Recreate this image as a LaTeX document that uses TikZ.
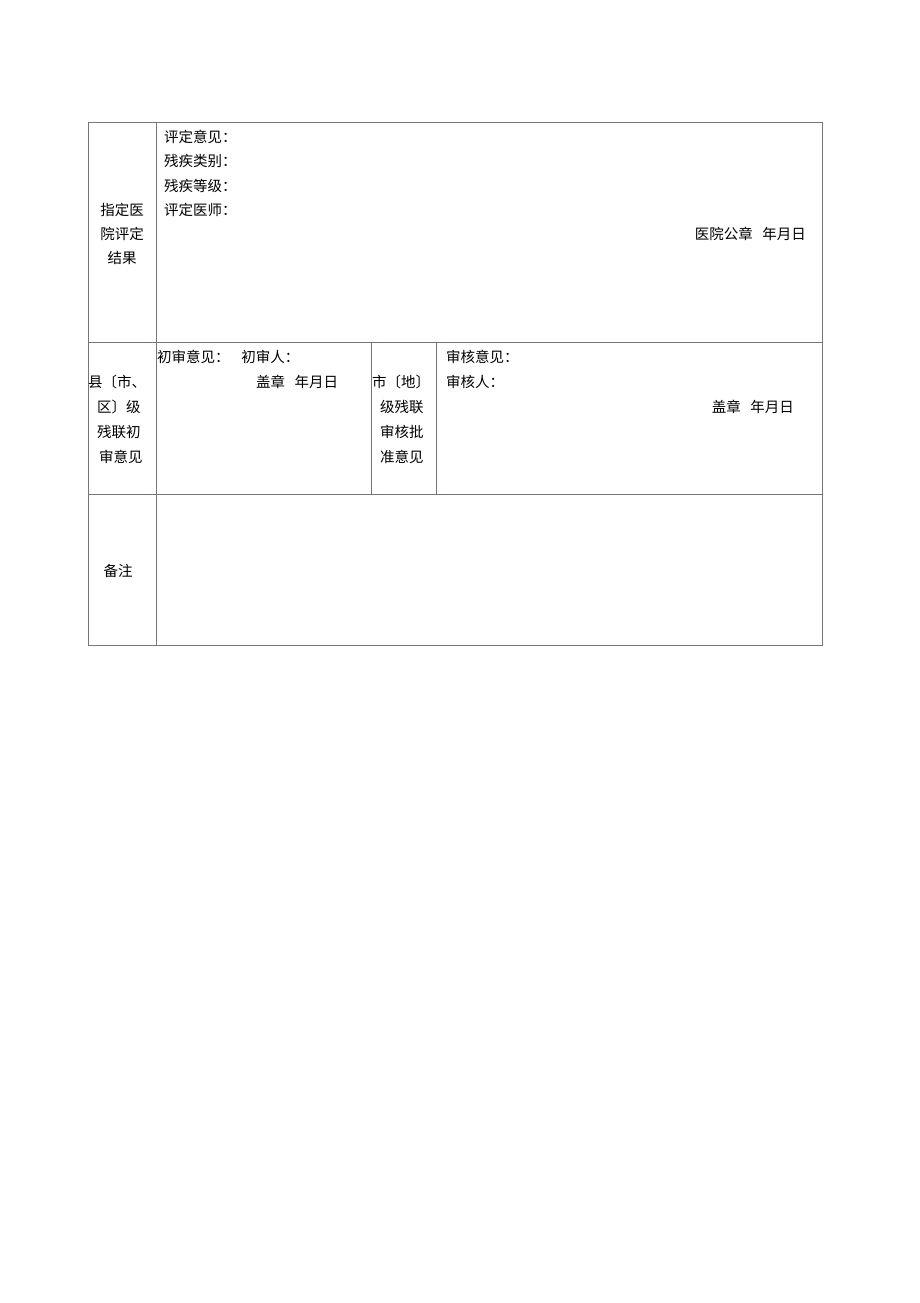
\documentclass[tikz,border=0pt]{standalone}
\usepackage{fontspec}
\newfontfamily\cjk{Noto Sans CJK SC}
\definecolor{rule}{RGB}{122,116,122}
\begin{document}
\begin{tikzpicture}[x=1pt,y=-1pt,
  tbl/.style={draw=rule,line width=0.9pt},
  lt/.style={anchor=west,inner sep=0pt,font=\cjk\fontsize{14.5}{16}\selectfont},
  rt/.style={anchor=east,inner sep=0pt,font=\cjk\fontsize{14.5}{16}\selectfont},
  ct/.style={anchor=center,inner sep=0pt,font=\cjk\fontsize{14.5}{16}\selectfont}]
\useasboundingbox[fill=white] (0,0) rectangle (920,1303);
% table frame
\draw[tbl] (88,122) rectangle (822,645);
\draw[tbl] (88,342) -- (822,342);
\draw[tbl] (88,494) -- (822,494);
\draw[tbl] (156,122) -- (156,645);
\draw[tbl] (371,342) -- (371,494);
\draw[tbl] (436,342) -- (436,494);
% row 1
\node[ct] (a1) at (122,210) {指定医};
\node[ct] (a2) at (122,234) {院评定};
\node[ct] (a3) at (122,258) {结果};
\node[lt] (b1) at (164,137) {评定意见：};
\node[lt] (b2) at (164,161) {残疾类别：};
\node[lt] (b3) at (164,186) {残疾等级：};
\node[lt] (b4) at (164,210) {评定医师：};
\node[rt] (b5) at (806,234) {医院公章\hspace{0.65em}年月日};
% row 2
\node[lt] (c1) at (88,382) {县〔市、};
\node[lt] (c2) at (97,407) {区〕级};
\node[lt] (c3) at (97,432) {残联初};
\node[lt] (c4) at (99,457) {审意见};
\node[lt] (d1) at (157,357) {初审意见：\hspace{0.8em}初审人：};
\node[lt] (d2) at (256,382) {盖章\hspace{0.65em}年月日};
\node[lt] (e1) at (372,382) {市〔地〕};
\node[lt] (e2) at (380,407) {级残联};
\node[lt] (e3) at (380,432) {审核批};
\node[lt] (e4) at (380,457) {准意见};
\node[lt] (f1) at (446,357) {审核意见：};
\node[lt] (f2) at (446,382) {审核人：};
\node[rt] (f3) at (794,407) {盖章\hspace{0.65em}年月日};
% row 3
\node[ct] (g1) at (118,571) {备注};
\end{tikzpicture}
\end{document}
